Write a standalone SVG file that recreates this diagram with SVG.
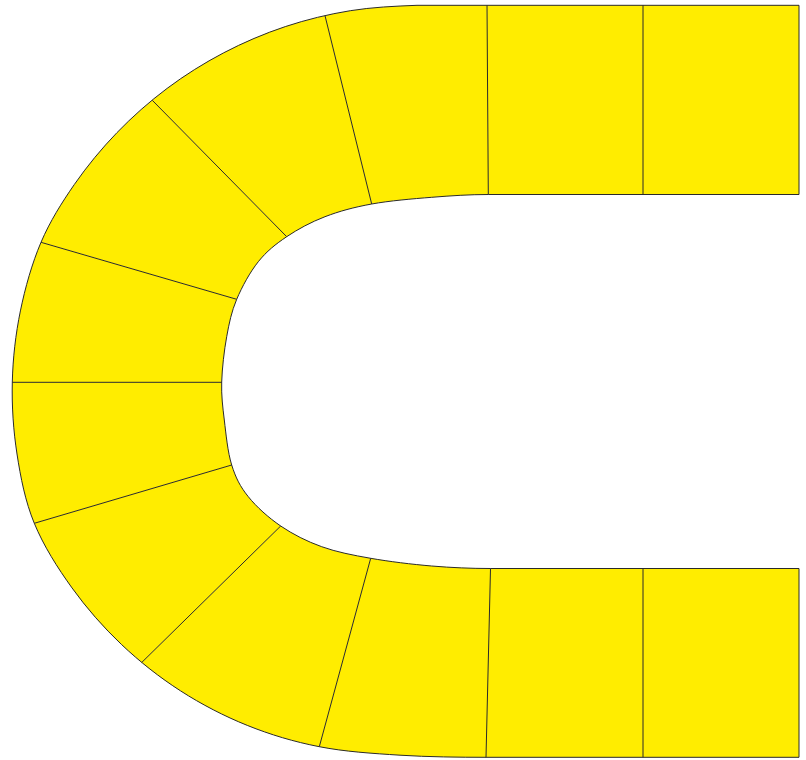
<svg xmlns="http://www.w3.org/2000/svg" width="806" height="760" viewBox="0 0 806 760">
<style>
.seg{fill:#FFED00;stroke:none}
.edge{fill:none;stroke:#2a2a2a;stroke-width:1}
</style>
<defs>
<path id="ushape" d="M799,5.3 L487,5.3 L417,5.3 C394.217,6.2 372.25,7.15 350.3,10.7 C328.35,14.25 306.4,19.583 285.3,26.6 C264.2,33.617 243.4,42.5 223.7,52.8 C204,63.1 184.9,75.083 167.1,88.4 C149.3,101.717 132.35,116.7 116.9,132.7 C101.45,148.7 87.05,166.133 74.4,184.4 C61.75,202.667 50,221.217 41,242.3 C32,263.383 25.183,287.617 20.4,310.9 C15.617,334.183 12.867,358.15 12.3,382 C11.733,405.85 13.333,430.45 17,454 C20.667,477.55 25.133,500.983 34.3,523.3 C43.467,545.617 57.483,567.717 72,587.9 C86.517,608.083 103.3,627.233 121.4,644.4 C139.5,661.567 159.617,677.4 180.6,690.9 C201.583,704.4 224.183,716.1 247.3,725.4 C270.417,734.7 293.85,741.733 319.3,746.7 C344.75,751.667 372.217,753.433 400,755.2 C427.783,756.967 459.333,757.3 486,757.3 L799,757.3 L799,568.5 L490.5,568.5 C471,568.5 451.75,567.667 431.7,566 C411.65,564.333 389.033,561.517 370.7,558.3 C352.367,555.083 336.7,552.083 321.7,546.7 C306.7,541.317 292.933,534.333 280.7,526 C268.467,517.667 256.467,506.867 248.3,496.7 C240.133,486.533 235.7,477.783 231.7,465 C227.7,452.217 225.967,433.833 224.3,420 C222.633,406.167 221.3,395.883 221.7,382 C222.1,368.117 224.2,350.483 226.7,336.7 C229.2,322.917 231.433,311.8 236.7,299.3 C241.967,286.8 249.967,272.133 258.3,261.7 C266.633,251.267 275.583,244.2 286.7,236.7 C297.817,229.2 310.833,222.15 325,216.7 C339.167,211.25 353.917,207.233 371.7,204 C389.483,200.767 412.267,198.85 431.7,197.3 C451.133,195.75 469.3,194.5 488.3,194.5 L799,194.5 Z"/>
<clipPath id="uclip"><use href="#ushape"/></clipPath>
</defs>
<g id="segments" clip-path="url(#uclip)">
<g id="seg1"><polygon class="seg" points="643,0 805,0 805,200 643,200"/></g>
<g id="seg2"><polygon class="seg" points="486.3,0 643,0 643,200 488.7,241.8"/></g>
<g id="seg3"><polygon class="seg" points="486.3,-42 488.7,241.8 383.4,251.1 313.3,-31.4"/></g>
<g id="seg4"><polygon class="seg" points="313.3,-31.4 383.4,251.1 320.3,270.8 118.7,66.2"/></g>
<g id="seg5"><polygon class="seg" points="118.7,66.2 320.3,270.8 285.6,313.6 -7.9,227.7"/></g>
<g id="seg6"><polygon class="seg" points="-7.9,227.7 285.6,313.6 274,382.3 -40,382.3"/></g>
<g id="seg7"><polygon class="seg" points="-40,382.3 274,382.3 281,450.4 -15,537.9"/></g>
<g id="seg8"><polygon class="seg" points="-15,537.9 281,450.4 315.4,491.9 107,696.4"/></g>
<g id="seg9"><polygon class="seg" points="107,696.4 315.4,491.9 383.5,511.2 306.5,793.8"/></g>
<g id="seg10"><polygon class="seg" points="306.5,793.8 383.5,511.2 491.6,521 484.9,804.5"/></g>
<g id="seg11"><polygon class="seg" points="484.9,760 491.6,521 643,560 643,760"/></g>
<g id="seg12"><polygon class="seg" points="643,560 805,560 805,760 643,760"/></g>
</g>
<g id="connectors">
<use href="#ushape" class="edge"/>
<line class="edge" x1="643" y1="5.3" x2="643" y2="194.5"/>
<line class="edge" x1="487" y1="5.3" x2="488.3" y2="194.5"/>
<line class="edge" x1="325" y1="15.7" x2="371.7" y2="204"/>
<line class="edge" x1="152.3" y1="100.3" x2="286.7" y2="236.7"/>
<line class="edge" x1="41" y1="242.3" x2="236.7" y2="299.3"/>
<line class="edge" x1="12.3" y1="382.3" x2="221.7" y2="382.3"/>
<line class="edge" x1="34.3" y1="523.3" x2="231.7" y2="465"/>
<line class="edge" x1="141.7" y1="662.5" x2="280.7" y2="526"/>
<line class="edge" x1="319.3" y1="746.7" x2="370.7" y2="558.3"/>
<line class="edge" x1="486" y1="757.3" x2="490.5" y2="568.5"/>
<line class="edge" x1="643" y1="568.5" x2="643" y2="757.3"/>
</g>
</svg>
